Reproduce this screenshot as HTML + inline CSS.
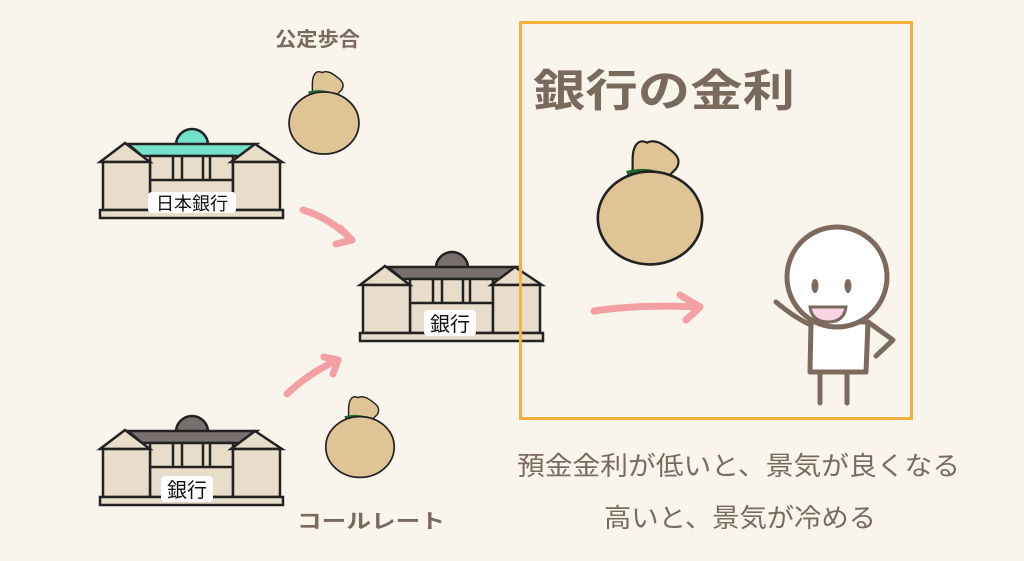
<!DOCTYPE html>
<html><head><meta charset="utf-8"><style>
html,body{margin:0;padding:0;background:#f9f5ec;}
svg{display:block}
text{font-family:"Liberation Sans","Noto Sans CJK JP",sans-serif;fill:#7a6a5e}
</style></head><body>
<svg width="1024" height="561" viewBox="0 0 1024 561" xmlns="http://www.w3.org/2000/svg">
<rect width="1024" height="561" fill="#f9f5ec"/>
<defs>
<g id="bld">
  <path d="M76,17 A16,16 0 0 1 108,17 Z" fill="var(--r)" stroke="#222" stroke-width="2.5"/>
  <polygon points="28,16 157,16 143,28 42,28" fill="var(--r)" stroke="#222" stroke-width="2.5"/>
  <rect x="50" y="28" width="83" height="54" fill="#e8dccb" stroke="#222" stroke-width="2.5"/>
  <line x1="50" y1="52" x2="133" y2="52" stroke="#222" stroke-width="2.5"/>
  <line x1="73" y1="28" x2="73" y2="52" stroke="#222" stroke-width="2.5"/>
  <line x1="82" y1="28" x2="82" y2="52" stroke="#222" stroke-width="2.5"/>
  <line x1="103" y1="28" x2="103" y2="52" stroke="#222" stroke-width="2.5"/>
  <line x1="110" y1="28" x2="110" y2="52" stroke="#222" stroke-width="2.5"/>
  <polygon points="0,34 25,15 50,34" fill="#e8dccb" stroke="#222" stroke-width="2.5"/>
  <rect x="3" y="34" width="47" height="48" fill="#e8dccb" stroke="#222" stroke-width="2.5"/>
  <polygon points="131,34 155,16 182,34" fill="#e8dccb" stroke="#222" stroke-width="2.5"/>
  <rect x="133" y="34" width="47" height="48" fill="#e8dccb" stroke="#222" stroke-width="2.5"/>
  <rect x="0" y="82" width="183" height="8" fill="#e8dccb" stroke="#222" stroke-width="2.5"/>
</g>
<g id="bag">
  <path d="M-12,-40 C-12,-50 -8,-55 -2,-52 C4,-55 10,-50 14,-47 C18,-44 22,-40 18,-34 L12,-28 L-12,-28 Z" fill="#dfc595" stroke="#222" stroke-width="1.5"/>
  <path d="M-16,-31 Q0,-35 14,-27" fill="none" stroke="#1d6b2a" stroke-width="3"/>
  <ellipse cx="0" cy="0" rx="36" ry="32" fill="#dfc595" stroke="#222" stroke-width="1.8"/>
</g>
</defs>

<g transform="translate(100,128)" style="--r:#74e2c8"><use href="#bld"/></g>
<rect x="148" y="192" width="88" height="21" rx="4" fill="#fff"/>
<text x="192" y="210" font-size="18" text-anchor="middle" style="fill:#111">日本銀行</text>

<g transform="translate(360,251)" style="--r:#77706e"><use href="#bld"/></g>
<rect x="424" y="310" width="52" height="26" rx="4" fill="#fff"/>
<text x="450" y="331" font-size="20" text-anchor="middle" style="fill:#111">銀行</text>

<g transform="translate(100,415)" style="--r:#77706e"><use href="#bld"/></g>
<rect x="161" y="476" width="52" height="26" rx="4" fill="#fff"/>
<text x="187" y="497" font-size="20" text-anchor="middle" style="fill:#111">銀行</text>

<g transform="translate(324,123) scale(0.97)"><use href="#bag"/></g>
<g transform="translate(360,447) scale(0.95)"><use href="#bag"/></g>
<g transform="translate(650,218) scale(1.45)"><use href="#bag"/></g>

<g fill="none" stroke="#f4a0a2" stroke-width="7" stroke-linecap="round" stroke-linejoin="round">
  <path d="M303,210 Q330,218 352,240"/>
  <path d="M340,228 L352,240 L336,244"/>
  <path d="M287,394 Q310,372 338,360"/>
  <path d="M324,357 L338,360 L333,374"/>
  <path d="M594,311 Q640,304 700,307"/>
  <path d="M680,295 L700,307 L686,320"/>
</g>

<rect x="520.5" y="22.5" width="391" height="396" fill="none" stroke="#f6b042" stroke-width="3"/>
<text x="533" y="106" font-size="44" textLength="262" lengthAdjust="spacingAndGlyphs" style="font-weight:bold">銀行の金利</text>

<g stroke="#7d6a5e" stroke-width="5" stroke-linecap="round" stroke-linejoin="round">
  <line x1="820" y1="370" x2="820" y2="403"/>
  <line x1="847" y1="370" x2="847" y2="403"/>
  <path d="M811,322 L810,372 L866,372 L868,322 Z" fill="#fff"/>
  <path d="M868,322 L893,340 L876,356" fill="none"/>
  <path d="M811,325 Q795,318 776,302" fill="none"/>
  <circle cx="837" cy="277" r="50" fill="#fff"/>
</g>
<ellipse cx="815" cy="286" rx="3.5" ry="7" fill="#7d6a5e"/>
<ellipse cx="848" cy="286" rx="3.5" ry="7" fill="#7d6a5e"/>
<path d="M810,307 L846,307 Q844,322 828,322 Q812,322 810,307 Z" fill="#f9d4e4" stroke="#7d6a5e" stroke-width="3"/>

<text x="275" y="46" font-size="20" textLength="85" lengthAdjust="spacingAndGlyphs" style="font-weight:bold">公定歩合</text>
<text x="297" y="528" font-size="20" textLength="148" lengthAdjust="spacingAndGlyphs" style="font-weight:bold">コールレート</text>
<text x="517" y="475" font-size="26" textLength="443" lengthAdjust="spacingAndGlyphs">預金金利が低いと、景気が良くなる</text>
<text x="604" y="527" font-size="26" textLength="272" lengthAdjust="spacingAndGlyphs">高いと、景気が冷める</text>
</svg>
</body></html>
